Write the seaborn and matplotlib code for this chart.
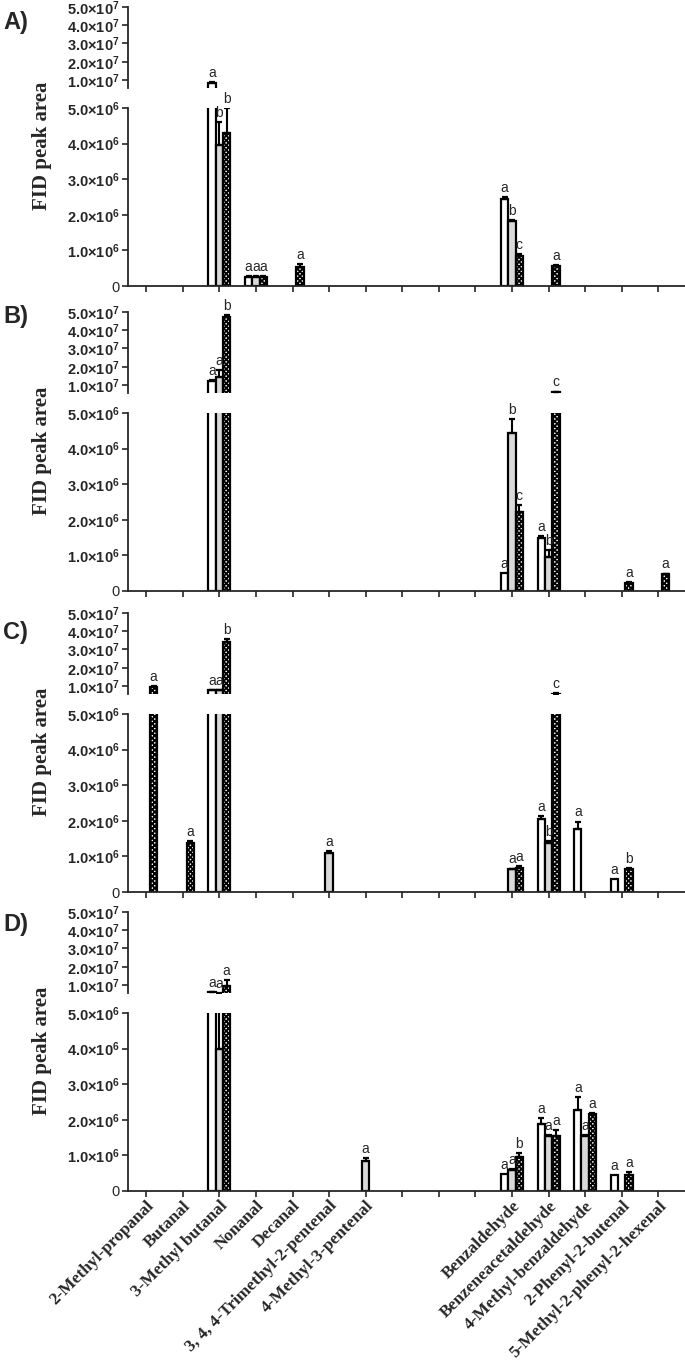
import numpy as np
import pandas as pd
import matplotlib
matplotlib.use('Agg')
import matplotlib.pyplot as plt
import seaborn as sns

# x slots: 7 aliphatic, 3 empty slots, 5 aromatic
aliphatic = ['2-Methyl-propanal', 'Butanal', '3-Methyl butanal', 'Nonanal', 'Decanal',
             '3, 4, 4-Trimethyl-2-pentenal', '4-Methyl-3-pentenal']
aromatic = ['Benzaldehyde', 'Benzeneacetaldehyde', '4-Methyl-benzaldehyde',
            '2-Phenyl-2-butenal', '5-Methyl-2-phenyl-2-hexenal']
gaps = ['_gap1', '_gap2', '_gap3']
slots = aliphatic + gaps + aromatic
treatments = ['S1', 'S2', 'S3']   # white, grey, checkered

# panel A
A_cmp = ['3-Methyl butanal'] * 3 + ['Nonanal'] * 3 + ['Decanal'] + ['Benzaldehyde'] * 3 + ['Benzeneacetaldehyde']
A_trt = ['S1', 'S2', 'S3', 'S1', 'S2', 'S3', 'S3', 'S1', 'S2', 'S3', 'S3']
A_val = [8.5e6, 3.95e6, 4.3e6, 0.25e6, 0.25e6, 0.26e6, 0.53e6, 2.45e6, 1.82e6, 0.85e6, 0.56e6]
A_err = [0.5e6, 0.65e6, 0.7e6, 0.02e6, 0.02e6, 0.02e6, 0.08e6, 0.06e6, 0.02e6, 0.05e6, 0.03e6]
A_lab = ['a', 'b', 'b', 'a', 'a', 'a', 'a', 'a', 'b', 'c', 'a']

# panel B
B_cmp = ['3-Methyl butanal'] * 3 + ['Benzaldehyde'] * 3 + ['Benzeneacetaldehyde'] * 3 + \
        ['2-Phenyl-2-butenal', '5-Methyl-2-phenyl-2-hexenal']
B_trt = ['S1', 'S2', 'S3', 'S1', 'S2', 'S3', 'S1', 'S2', 'S3', 'S3', 'S3']
B_val = [1.22e7, 1.45e7, 4.75e7, 0.5e6, 4.44e6, 2.22e6, 1.49e6, 0.95e6, 6.1e6, 0.22e6, 0.47e6]
B_err = [0.05e7, 0.35e7, 0.1e7, 0.0, 0.4e6, 0.2e6, 0.06e6, 0.2e6, 0.3e6, 0.02e6, 0.02e6]
B_lab = ['a', 'a', 'b', 'a', 'b', 'c', 'a', 'b', 'c', 'a', 'a']

# panel C
C_cmp = ['2-Methyl-propanal', 'Butanal'] + ['3-Methyl butanal'] * 3 + ['3, 4, 4-Trimethyl-2-pentenal'] + \
        ['Benzaldehyde'] * 2 + ['Benzeneacetaldehyde'] * 3 + ['4-Methyl-benzaldehyde'] + ['2-Phenyl-2-butenal'] * 2
C_trt = ['S3', 'S3', 'S1', 'S2', 'S3', 'S2', 'S2', 'S3', 'S1', 'S2', 'S3', 'S1', 'S1', 'S3']
C_val = [0.95e7, 1.37e6, 0.78e7, 0.78e7, 3.4e7, 1.1e6, 0.64e6, 0.68e6, 2.05e6, 1.37e6, 5.8e6, 1.76e6, 0.36e6, 0.64e6]
C_err = [0.05e7, 0.06e6, 0.02e7, 0.02e7, 0.15e7, 0.05e6, 0.02e6, 0.06e6, 0.08e6, 0.06e6, 0.25e6, 0.22e6, 0.0, 0.03e6]
C_lab = ['a', 'a', 'a', 'a', 'b', 'a', 'a', 'a', 'a', 'b', 'c', 'a', 'a', 'b']

# panel D
D_cmp = ['3-Methyl butanal'] * 3 + ['4-Methyl-3-pentenal'] + ['Benzaldehyde'] * 3 + ['Benzeneacetaldehyde'] * 3 + \
        ['4-Methyl-benzaldehyde'] * 3 + ['2-Phenyl-2-butenal'] * 2
D_trt = ['S1', 'S2', 'S3', 'S2', 'S1', 'S2', 'S3', 'S1', 'S2', 'S3', 'S1', 'S2', 'S3', 'S1', 'S3']
D_val = [6.0e6, 4.0e6, 0.95e7, 0.85e6, 0.48e6, 0.59e6, 0.95e6, 1.88e6, 1.55e6, 1.55e6, 2.27e6, 1.55e6, 2.15e6, 0.45e6, 0.45e6]
D_err = [0.1e6, 1.7e6, 0.3e7, 0.08e6, 0.0, 0.03e6, 0.12e6, 0.17e6, 0.03e6, 0.15e6, 0.37e6, 0.03e6, 0.04e6, 0.0, 0.08e6]
D_lab = ['a', 'a', 'a', 'a', 'a', 'a', 'b', 'a', 'a', 'a', 'a', 'a', 'a', 'a', 'a']

panels = [('A)', A_cmp, A_trt, A_val, A_err, A_lab),
          ('B)', B_cmp, B_trt, B_val, B_err, B_lab),
          ('C)', C_cmp, C_trt, C_val, C_err, C_lab),
          ('D)', D_cmp, D_trt, D_val, D_err, D_lab)]

low_ticks = [0, 1e6, 2e6, 3e6, 4e6, 5e6]
low_labels = ['0', r'$1.0{\times}10^{6}$', r'$2.0{\times}10^{6}$', r'$3.0{\times}10^{6}$',
              r'$4.0{\times}10^{6}$', r'$5.0{\times}10^{6}$']
high_ticks = [1e7, 2e7, 3e7, 4e7, 5e7]
high_labels = [r'$1.0{\times}10^{7}$', r'$2.0{\times}10^{7}$', r'$3.0{\times}10^{7}$',
               r'$4.0{\times}10^{7}$', r'$5.0{\times}10^{7}$']
LOW_MAX = 5e6
HIGH_MIN = 5.6e6

sns.set_style('ticks')
plt.rcParams['font.family'] = ['Liberation Sans', 'DejaVu Sans']
plt.rcParams.update({
    'mathtext.fontset': 'custom',
    'mathtext.rm': 'Liberation Sans:bold',
    'mathtext.bf': 'Liberation Sans:bold',
    'mathtext.it': 'Liberation Sans:bold',
    'mathtext.default': 'bf',
    'hatch.linewidth': 1.3,
    'axes.linewidth': 1.3,
})

W, H = 685, 1362
fig = plt.figure(figsize=(W / 100, H / 100), dpi=100)
palette = {'S1': 'white', 'S2': '#d9d9d9', 'S3': 'black'}
panel_tops = [7, 312, 613, 912]
letter_y = [22, 316, 632, 924]
left = 128 / W
width = 1 - left


def draw_bars(ax, df):
    sns.barplot(data=df, x='compound', y='area', hue='treatment', order=slots,
                hue_order=treatments, palette=palette, width=0.6, errorbar=None,
                edgecolor='black', linewidth=1.6, legend=False, ax=ax)
    for p in ax.patches:
        if tuple(np.round(p.get_facecolor()[:3], 2)) == (0.0, 0.0, 0.0):
            p.set_facecolor('white')
            p.set_hatch('xxxxxxx')
    ax.set_xlim(-0.5, 14.73)
    ax.set_xlabel('')
    ax.set_ylabel('')


def decorate(ax_lo, ax_hi, df):
    for p in ax_lo.patches:
        h = p.get_height()
        if not np.isfinite(h) or h <= 0:
            continue
        xc = p.get_x() + p.get_width() / 2
        ci = int(round(xc))
        ti = int(round((xc - ci) / 0.2)) + 1
        row = df[(df['compound'] == slots[ci]) & (df['treatment'] == treatments[ti])].iloc[0]
        top = row['area'] + row['err']
        if row['err'] > 0:
            targets = []
            if row['area'] < LOW_MAX:
                targets.append(ax_lo)
            if top > HIGH_MIN:
                targets.append(ax_hi)
            for ax in targets:
                ax.errorbar(xc, row['area'], yerr=[[0], [row['err']]], fmt='none',
                            ecolor='black', elinewidth=1.5, capsize=2.3, capthick=1.6, zorder=4)
        target = ax_hi if top > LOW_MAX else ax_lo
        target.annotate(row['letter'], (xc, max(top, HIGH_MIN) if top > LOW_MAX else top),
                        xytext=(0, 1.5), textcoords='offset points',
                        ha='center', va='bottom', fontsize=10, annotation_clip=False)


for k, (letter, cmp, trt, val, err, lab) in enumerate(panels):
    df = pd.DataFrame({'compound': cmp, 'treatment': trt, 'area': val, 'err': err, 'letter': lab})
    y0 = panel_tops[k]
    ax_hi = fig.add_axes([left, 1 - (y0 + 81) / H, width, 81 / H])
    ax_lo = fig.add_axes([left, 1 - (y0 + 279) / H, width, 178 / H])

    draw_bars(ax_hi, df)
    draw_bars(ax_lo, df)

    ax_hi.set_ylim(HIGH_MIN, 5e7)
    ax_hi.set_yticks(high_ticks)
    ax_hi.set_yticklabels(high_labels)
    ax_hi.set_xticks([])
    for s in ['top', 'right', 'bottom']:
        ax_hi.spines[s].set_visible(False)

    ax_lo.set_ylim(0, LOW_MAX)
    ax_lo.set_yticks(low_ticks)
    ax_lo.set_yticklabels(low_labels)
    ax_lo.set_xticks(range(len(slots)))
    for s in ['top', 'right']:
        ax_lo.spines[s].set_visible(False)

    for ax in (ax_hi, ax_lo):
        ax.tick_params(axis='both', direction='out', length=4, width=1.2, labelsize=10.5, pad=2)

    if k == 3:
        ax_lo.set_xticklabels([s if not s.startswith('_') else '' for s in slots],
                              rotation=45, ha='right', va='top', rotation_mode='anchor',
                              fontsize=12.4, fontweight='bold', family='Liberation Serif')
        ax_lo.tick_params(axis='x', pad=1)
    else:
        ax_lo.set_xticklabels([])

    decorate(ax_lo, ax_hi, df)

    fig.text(3 / W, 1 - letter_y[k] / H, letter, fontsize=17, fontweight='bold',
             ha='left', va='center')
    fig.text(42 / W, 1 - (y0 + 139) / H, 'FID peak area', rotation=90, fontsize=15,
             fontweight='bold', family='Liberation Serif', ha='center', va='center')

fig.savefig('out.png', dpi=100)
